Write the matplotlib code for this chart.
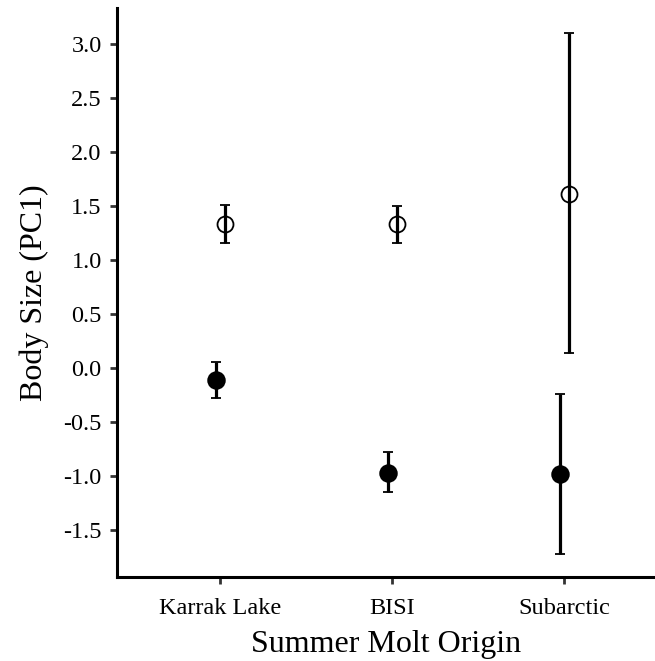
import matplotlib
matplotlib.use('Agg')
import matplotlib.pyplot as plt
from matplotlib.ticker import FormatStrFormatter

sites = ['Karrak Lake', 'BISI', 'Subarctic']

# open circles
open_mean = [1.33, 1.33, 1.61]
open_low = [1.16, 1.16, 0.14]
open_high = [1.51, 1.50, 3.10]

# filled circles
filled_mean = [-0.11, -0.97, -0.98]
filled_low = [-0.28, -1.15, -1.72]
filled_high = [0.06, -0.78, -0.24]

yticks = [-1.5, -1.0, -0.5, 0.0, 0.5, 1.0, 1.5, 2.0, 2.5, 3.0]

plt.rcParams['font.family'] = ['Liberation Serif', 'DejaVu Serif']
plt.rcParams['axes.unicode_minus'] = False

fig = plt.figure(figsize=(6.55, 6.61), dpi=100)
ax = fig.add_axes([117 / 655, 84 / 661, 538 / 655, 569 / 661])

x = list(range(1, len(sites) + 1))
dodge = 0.027


def draw(xs, mean, low, high, face):
    yerr = [[m - lo for m, lo in zip(mean, low)],
            [hi - m for m, hi in zip(mean, high)]]
    ax.errorbar(xs, mean, yerr=yerr, fmt='o', color='black',
                ecolor='black', elinewidth=2.3, capsize=3.8, capthick=2.3,
                markersize=12 if face == 'black' else 11.5,
                markerfacecolor=face, markeredgecolor='black',
                markeredgewidth=1.3, zorder=3)


draw([v - dodge for v in x], filled_mean, filled_low, filled_high, 'black')
draw([v + dodge for v in x], open_mean, open_low, open_high, 'none')

ax.set_xlim(0.4, 0.4 + 538 / 172)
ax.set_ylim(-1.935, 3.333)
ax.set_xticks(x)
ax.set_xticklabels(sites)
ax.set_yticks(yticks)
ax.yaxis.set_major_formatter(FormatStrFormatter('%.1f'))

for side in ['top', 'right']:
    ax.spines[side].set_visible(False)
for side in ['left', 'bottom']:
    ax.spines[side].set_linewidth(2.2)
ax.tick_params(width=2.0, length=5, labelsize=17.5, pad=6,
               color='#333333')
ax.tick_params(axis='x', pad=10)

ax.set_xlabel('Summer Molt Origin', fontsize=23, labelpad=8)
ax.set_ylabel('Body Size (PC1)', fontsize=23, labelpad=10)

fig.savefig('out.png', dpi=100)
